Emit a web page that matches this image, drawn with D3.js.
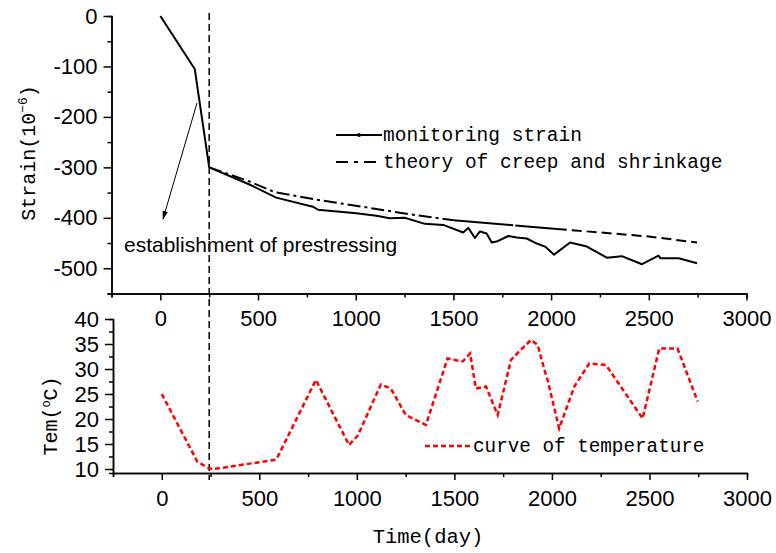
<!DOCTYPE html>
<html>
<head>
<meta charset="utf-8">
<title>Strain and temperature</title>
<script src="https://cdn.jsdelivr.net/npm/d3@7"></script>
<style>
body { margin: 0; background: #fff; }
.tick text { font: 22px 'Liberation Sans', Arial, sans-serif; fill: #000; }
.domain, .tick line { stroke: #000; stroke-width: 1.5px; }
.mono { font-family: 'Liberation Mono', 'DejaVu Sans Mono', monospace; fill: #000; }
</style>
</head>
<body>
<svg id="chart" width="776" height="553"></svg>
<script>
// monitoring strain (10^-6) vs day
var strainDays = [0,176,250,456,593,781,807,1003,1106,1174,1251,1354,1448,1550,1576,1610,1636,1670,1696,1721,1781,1824,1875,1927,1969,2015,2097,2183,2285,2362,2465,2550,2559,2653,2747];
var strainValues = [0,-105,-300,-334,-360,-378,-384,-391,-396,-401,-400,-412,-414,-429,-420,-440,-427,-431,-449,-447,-436,-439,-441,-451,-457,-473,-449,-457,-479,-476,-492,-475,-480,-480,-490];

// theory of creep and shrinkage
var theoryDays = [250,456,585,798,1000,1260,1500,2029,2500,2747];
var theoryValues = [-300,-328,-349,-364,-376,-392,-405,-422,-437,-449];

// temperature curve
var tempDays = [0,182,242,268,576,590,790,960,1005,1123,1174,1251,1354,1465,1542,1581,1610,1662,1722,1790,1832,1892,1927,1969,1978,2037,2115,2191,2277,2465,2550,2644,2747];
var tempValues = [25,11.5,10.1,10,11.8,12.1,27.8,14.8,16.7,26.9,26.1,20.8,18.8,32.1,31.5,33.1,26.1,26.5,20.8,31.8,33.5,35.8,34.8,28.8,27.8,18.1,26.5,31.1,30.8,20.1,34.1,34.1,23.5];

var xTicks = [0,500,1000,1500,2000,2500,3000];
var xMinor = [-250,250,750,1250,1750,2250,2750];
var strainTicks = [0,-100,-200,-300,-400,-500];
var strainMinor = [-50,-150,-250,-350,-450,-550];
var tempTicks = [10,15,20,25,30,35,40];
var tempMinor = [12.5,17.5,22.5,27.5,32.5,37.5];
var prestressDay = 250;

var svg = d3.select("#chart");

var xTop = d3.scaleLinear().domain([-250, 3000]).range([111.5, 746.5]);
var xBot = d3.scaleLinear().domain([-250, 3000]).range([113, 747]);
var yStrain = d3.scaleLinear().domain([-550, 0]).range([293.5, 16]);
var yTemp = d3.scaleLinear().domain([9.2, 40]).range([473, 319]);

function fmt(d) { return String(d); }

// top panel axes
svg.append("g").attr("transform", "translate(0,293.5)")
  .call(d3.axisBottom(xTop).tickValues(xMinor).tickSize(4).tickFormat(""));
svg.append("g").attr("transform", "translate(0,293.5)")
  .call(d3.axisBottom(xTop).tickValues(xTicks).tickSize(7).tickSizeOuter(0).tickPadding(10).tickFormat(fmt));
svg.append("g").attr("transform", "translate(111.5,0)")
  .call(d3.axisLeft(yStrain).tickValues(strainMinor).tickSize(4).tickFormat(""));
svg.append("g").attr("transform", "translate(111.5,0)")
  .call(d3.axisLeft(yStrain).tickValues(strainTicks).tickSize(8).tickSizeOuter(0).tickPadding(6).tickFormat(fmt));

// bottom panel axes
svg.append("g").attr("transform", "translate(0,473)")
  .call(d3.axisBottom(xBot).tickValues(xMinor).tickSize(4).tickFormat(""));
svg.append("g").attr("transform", "translate(0,473)")
  .call(d3.axisBottom(xBot).tickValues(xTicks).tickSize(7).tickSizeOuter(0).tickPadding(10).tickFormat(fmt));
svg.append("g").attr("transform", "translate(113,0)")
  .call(d3.axisLeft(yTemp).tickValues(tempMinor).tickSize(4).tickFormat(""));
svg.append("g").attr("transform", "translate(113,0)")
  .call(d3.axisLeft(yTemp).tickValues(tempTicks).tickSize(8).tickSizeOuter(0).tickPadding(6).tickFormat(fmt));

// prestress marker line across both panels
svg.append("line")
  .attr("x1", xTop(prestressDay)).attr("x2", xTop(prestressDay))
  .attr("y1", 13).attr("y2", 480)
  .attr("stroke", "#000").attr("stroke-width", 1.5)
  .attr("stroke-dasharray", "7,4");

var strainLine = d3.line().x(function(d) { return xTop(d[0]); }).y(function(d) { return yStrain(d[1]); });
var tempLine = d3.line().x(function(d) { return xBot(d[0]); }).y(function(d) { return yTemp(d[1]); });

// theory curve: dash pattern differs along the curve (dash-dot, near solid, dashed)
var theoryPts = theoryDays.map(function(d, i) { return [d, theoryValues[i]]; });
var theoryParts = [
  { from: 250, to: 1500, dash: "13,4,3,4" },
  { from: 1500, to: 2029, dash: "60,2" },
  { from: 2029, to: 2747, dash: "10,5" }
];
theoryParts.forEach(function(p) {
  svg.append("path")
    .datum(theoryPts.filter(function(d) { return d[0] >= p.from && d[0] <= p.to; }))
    .attr("d", strainLine)
    .attr("fill", "none").attr("stroke", "#000").attr("stroke-width", 2)
    .attr("stroke-dasharray", p.dash);
});

svg.append("path")
  .datum(strainDays.map(function(d, i) { return [d, strainValues[i]]; }))
  .attr("d", strainLine)
  .attr("fill", "none").attr("stroke", "#000").attr("stroke-width", 2)
  .attr("stroke-linejoin", "round");

svg.append("path")
  .datum(tempDays.map(function(d, i) { return [d, tempValues[i]]; }))
  .attr("d", tempLine)
  .attr("fill", "none").attr("stroke", "#ff0000").attr("stroke-width", 2.5)
  .attr("stroke-dasharray", "5,3");

// legends
svg.append("line").attr("x1", 336).attr("x2", 382).attr("y1", 135).attr("y2", 135)
  .attr("stroke", "#000").attr("stroke-width", 2);
svg.append("circle").attr("cx", 359).attr("cy", 135).attr("r", 2).attr("fill", "#000");
svg.append("text").attr("class", "mono").attr("x", 383).attr("y", 141)
  .style("font-size", "19.5px").text("monitoring strain");

svg.append("line").attr("x1", 336).attr("x2", 382).attr("y1", 162).attr("y2", 162)
  .attr("stroke", "#000").attr("stroke-width", 2).attr("stroke-dasharray", "12,6,4,6");
svg.append("text").attr("class", "mono").attr("x", 383).attr("y", 168)
  .style("font-size", "19.5px").text("theory of creep and shrinkage");

svg.append("line").attr("x1", 425).attr("x2", 473).attr("y1", 446).attr("y2", 446)
  .attr("stroke", "#ff0000").attr("stroke-width", 2.5).attr("stroke-dasharray", "5,3");
svg.append("text").attr("class", "mono").attr("x", 473).attr("y", 452)
  .style("font-size", "19.3px").text("curve of temperature");

// annotation arrow
svg.append("defs").append("marker")
  .attr("id", "arrow").attr("viewBox", "0 0 10 10")
  .attr("refX", 9).attr("refY", 5)
  .attr("markerWidth", 9).attr("markerHeight", 9)
  .attr("orient", "auto")
  .append("path").attr("d", "M0,2 L10,5 L0,8 Z").attr("fill", "#000");

svg.append("line")
  .attr("x1", 197).attr("y1", 103).attr("x2", 163).attr("y2", 219)
  .attr("stroke", "#000").attr("stroke-width", 1)
  .attr("marker-end", "url(#arrow)");

svg.append("text").attr("x", 124).attr("y", 252)
  .style("font", "21px 'Liberation Sans', Arial, sans-serif")
  .text("establishment of prestressing");

// axis titles
svg.append("text").attr("class", "mono")
  .attr("transform", "translate(35,153) rotate(-90)")
  .attr("text-anchor", "middle")
  .style("font-size", "20px")
  .html("Strain(10<tspan dy='-8' font-size='13px'>−6</tspan><tspan dy='8'>)</tspan>");

svg.append("text").attr("class", "mono")
  .attr("transform", "translate(57,416) rotate(-90)")
  .attr("text-anchor", "middle")
  .style("font-size", "20px")
  .html("Tem(<tspan dy='-7' font-size='12px'>o</tspan><tspan dy='7'>C)</tspan>");

svg.append("text").attr("class", "mono")
  .attr("x", 428).attr("y", 543)
  .attr("text-anchor", "middle")
  .style("font-size", "20.5px")
  .text("Time(day)");
</script>
</body>
</html>
